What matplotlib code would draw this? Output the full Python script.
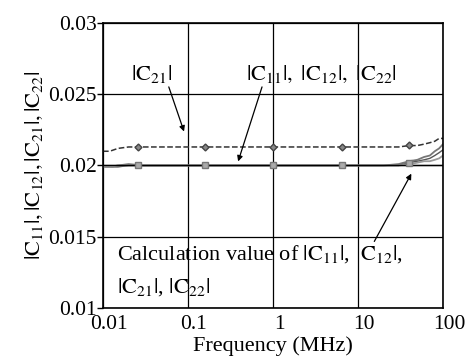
import numpy as np
import matplotlib.pyplot as plt
import matplotlib.transforms as mtrans

plt.rcParams['font.family'] = ['Liberation Serif', 'DejaVu Serif']
plt.rcParams['mathtext.fontset'] = 'stix'

# measured data (MHz)
freq = [0.01, 0.012, 0.015, 0.02, 0.03, 0.05, 0.1, 0.2, 0.5, 1, 2, 5, 10,
        20, 30, 40, 50, 60, 70, 80, 90, 100]
c21 = [0.0210, 0.0210, 0.0212, 0.0213, 0.0213, 0.0213, 0.0213, 0.0213, 0.0213,
       0.0213, 0.0213, 0.0213, 0.0213, 0.0213, 0.0213, 0.0214, 0.0214, 0.0215,
       0.0216, 0.0217, 0.0219, 0.0219]
c11 = [0.0199, 0.0199, 0.0200, 0.0201, 0.0200, 0.0200, 0.0200, 0.0200, 0.0200,
       0.0200, 0.0200, 0.0200, 0.0200, 0.0200, 0.0201, 0.0203, 0.0204, 0.0206,
       0.0207, 0.0210, 0.0212, 0.0215]
c12 = [0.0199, 0.0199, 0.0199, 0.0200, 0.0200, 0.0200, 0.0200, 0.0200, 0.0200,
       0.0200, 0.0200, 0.0200, 0.0200, 0.0200, 0.0200, 0.0202, 0.0203, 0.0204,
       0.0205, 0.0207, 0.0209, 0.0211]
c22 = [0.0199, 0.0199, 0.0200, 0.0200, 0.0200, 0.0200, 0.0200, 0.0200, 0.0200,
       0.0200, 0.0200, 0.0200, 0.0200, 0.0200, 0.0200, 0.0201, 0.0202, 0.0203,
       0.0203, 0.0204, 0.0205, 0.0207]
calc_freq = [0.01, 100]
calc_val = [0.0200, 0.0200]

mark_freq = [0.026, 0.16, 1, 6.5, 40]
mark_c21 = [0.0213, 0.0213, 0.0213, 0.0213, 0.02145]
mark_c11 = [0.0200, 0.0200, 0.0200, 0.0200, 0.0202]

fig = plt.figure(figsize=(4.77, 3.6), dpi=100)
ax = fig.add_axes([103/477, 1-308/360, 340/477, 285/360])

ax.plot(freq, c21, '--', color='#333333', lw=1.1)
ax.plot(mark_freq, mark_c21, 'D', ms=3.5, mfc='#888888', mec='#444444', mew=1)
ax.plot(freq, c11, '-', color='#777777', lw=1.3)
ax.plot(freq, c12, '-', color='#555555', lw=1.0)
ax.plot(freq, c22, '-', color='#999999', lw=1.3)
ax.plot(calc_freq, calc_val, '-', color='black', lw=1.0)
ax.plot(mark_freq, mark_c11, 's', ms=5, mfc='#aaaaaa', mec='#777777', mew=1)

ax.set_xscale('log')
ax.set_xlim(0.01, 100)
ax.set_ylim(0.01, 0.03)
ax.set_xticks([0.01, 0.1, 1, 10, 100])
ax.set_xticklabels(['0.01', '0.1', '1', '10', '100'])
ax.set_yticks([0.01, 0.015, 0.02, 0.025, 0.03])
ax.set_yticklabels(['0.01', '0.015', '0.02', '0.025', '0.03'])
ax.minorticks_off()
ax.grid(True, color='black', lw=0.9)
ax.tick_params(axis='x', labelsize=15.5, length=0, pad=5)
ax.tick_params(axis='y', labelsize=15.5, length=4, width=1, pad=0.5)
for s in ax.spines.values():
    s.set_linewidth(1.2)

# x tick labels sit a little to the right in the original
shift = mtrans.ScaledTranslation(6/100, 0, fig.dpi_scale_trans)
for lab in ax.get_xticklabels():
    lab.set_transform(lab.get_transform() + shift)

ax.set_xlabel('Frequency (MHz)', fontsize=16, labelpad=2)
ax.set_ylabel(r'$|\mathrm{C}_{11}|,|\mathrm{C}_{12}|,|\mathrm{C}_{21}|,|\mathrm{C}_{22}|$',
              fontsize=16, labelpad=2)

ap = dict(arrowstyle='-|>', color='black', lw=0.9, mutation_scale=8)
ax.text(0.0377, 0.0264, r'$|\mathrm{C}_{21}|$', fontsize=16, ha='center', va='center')
ax.annotate('', xy=(0.092, 0.0222), xytext=(0.058, 0.0257), arrowprops=ap)
ax.text(3.67, 0.0264, r'$|\mathrm{C}_{11}|,\ |\mathrm{C}_{12}|,\ |\mathrm{C}_{22}|$',
        fontsize=16, ha='center', va='center')
ax.annotate('', xy=(0.38, 0.0201), xytext=(0.76, 0.0257), arrowprops=ap)
ax.annotate('', xy=(44, 0.0196), xytext=(15, 0.0145), arrowprops=ap)
ax.text(0.0146, 0.01377, r'Calculation value of $|\mathrm{C}_{11}|$,  $\mathrm{C}_{12}|$,',
        fontsize=16, va='center')
ax.text(0.0146, 0.01145, r'$|\mathrm{C}_{21}|$, $|\mathrm{C}_{22}|$',
        fontsize=16, va='center')

fig.savefig('out.png', dpi=100)
